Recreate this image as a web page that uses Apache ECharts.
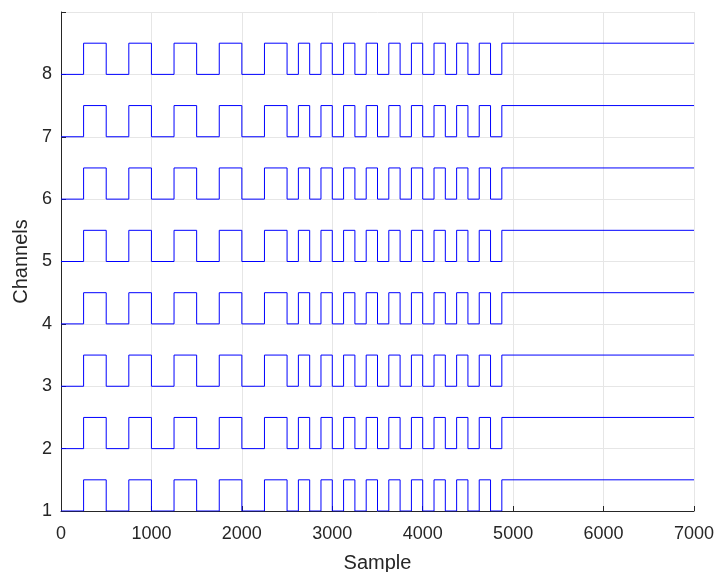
<!DOCTYPE html>
<html>
<head>
<meta charset="utf-8">
<script src="https://cdn.jsdelivr.net/npm/echarts@6/dist/echarts.min.js"></script>
<style>
  html, body { margin: 0; padding: 0; background: #fff; }
  #chart { width: 715px; height: 572px; }
</style>
</head>
<body>
<div id="chart"></div>
<script>
  // channels stacked on the y axis
  var channels = [1, 2, 3, 4, 5, 6, 7, 8];
  // sample where each state begins, and the state held from there
  var edgeSamples = [0, 250, 500, 750, 1000, 1250, 1500, 1750, 2000, 2250, 2500,
    2625, 2750, 2875, 3000, 3125, 3250, 3375, 3500, 3625, 3750,
    3875, 4000, 4125, 4250, 4375, 4500, 4625, 4750, 4875, 7000];
  var levels = [0, 1, 0, 1, 0, 1, 0, 1, 0, 1, 0,
    1, 0, 1, 0, 1, 0, 1, 0, 1, 0,
    1, 0, 1, 0, 1, 0, 1, 0, 1, 1];
  var pulseHeight = 0.5;
  var xTicks = [0, 1000, 2000, 3000, 4000, 5000, 6000, 7000];
  var yTicks = [1, 2, 3, 4, 5, 6, 7, 8];

  var myChart = echarts.init(document.getElementById('chart'));

  var series = channels.map(function (ch) {
    return {
      name: 'ch' + ch,
      type: 'line',
      step: 'end',
      symbol: 'none',
      lineStyle: { color: '#0000ff', width: 1 },
      data: edgeSamples.map(function (x, i) {
        return [x, ch + levels[i] * pulseHeight];
      })
    };
  });

  var textColor = '#262626';
  var font = "'Liberation Sans', Arial, sans-serif";

  var option = {
    animation: false,
    grid: { left: 61, right: 21, top: 12, bottom: 61, containLabel: false, outerBoundsMode: 'none' },
    xAxis: {
      type: 'value',
      min: xTicks[0],
      max: xTicks[xTicks.length - 1],
      interval: 1000,
      name: 'Sample',
      nameLocation: 'middle',
      nameGap: 42,
      nameTextStyle: { color: textColor, fontSize: 20, fontFamily: font },
      axisLine: { show: true, lineStyle: { color: textColor, width: 1 } },
      axisTick: { show: true, inside: true, length: 5, lineStyle: { color: textColor } },
      axisLabel: {
        color: textColor, fontSize: 18, fontFamily: font, margin: 14,
        formatter: function (v) { return String(v); }
      },
      splitLine: { show: true, lineStyle: { color: '#e6e6e6', width: 1 } }
    },
    yAxis: {
      type: 'value',
      min: 1,
      max: 9,
      interval: 1,
      name: 'Channels',
      nameLocation: 'middle',
      nameGap: 26,
      nameRotate: 90,
      nameTextStyle: { color: textColor, fontSize: 20, fontFamily: font },
      axisLine: { show: true, lineStyle: { color: textColor, width: 1 } },
      axisTick: { show: true, inside: true, length: 5, lineStyle: { color: textColor } },
      axisLabel: {
        color: textColor, fontSize: 18, fontFamily: font, margin: 9,
        formatter: function (v) { return yTicks.indexOf(v) >= 0 ? String(v) : ''; }
      },
      splitLine: { show: true, lineStyle: { color: '#e6e6e6', width: 1 } }
    },
    series: series
  };
  myChart.setOption(option);
</script>
</body>
</html>
